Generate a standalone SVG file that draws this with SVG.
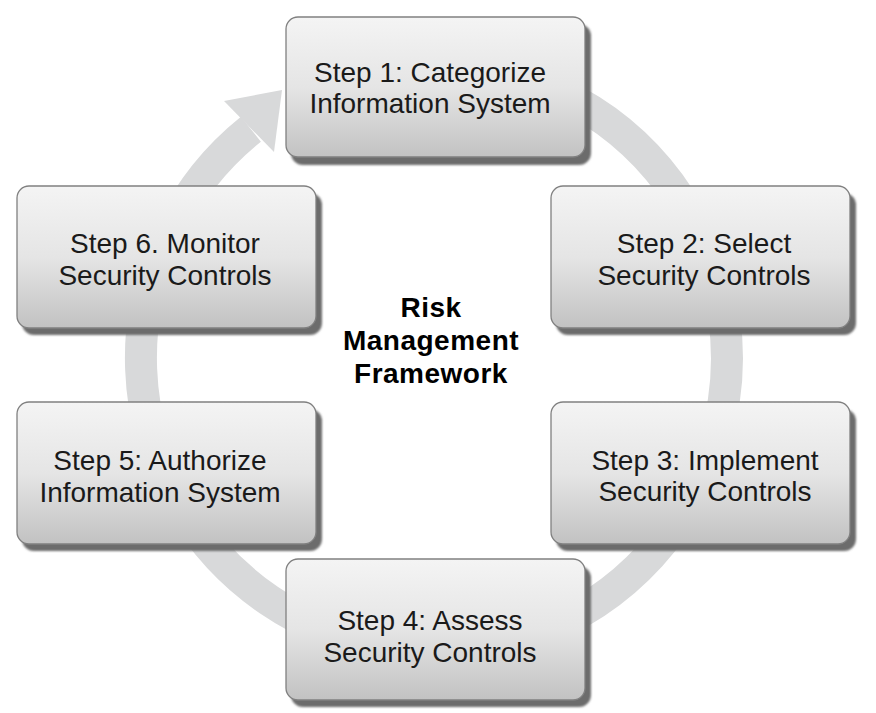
<svg xmlns="http://www.w3.org/2000/svg" width="876" height="713" viewBox="0 0 876 713">
<style>
.box{fill:url(#g);stroke:#808080;stroke-width:1.3}
.sh{fill:#6c6c6c;filter:url(#b)}
.t{font-family:"Liberation Sans",Arial,sans-serif;font-size:28px;fill:#1a1a1a;text-anchor:middle}
.c{font-family:"Liberation Sans",Arial,sans-serif;font-size:28px;font-weight:bold;fill:#000;text-anchor:middle;letter-spacing:0.5px}
</style>
<defs>
<linearGradient id="g" x1="0" y1="0" x2="0" y2="1">
<stop offset="0" stop-color="#f4f4f4"/>
<stop offset="0.5" stop-color="#e5e5e5"/>
<stop offset="1" stop-color="#c2c2c2"/>
</linearGradient>
<filter id="b" x="-5%" y="-5%" width="110%" height="110%"><feGaussianBlur stdDeviation="1.2"/></filter>
</defs>
<rect width="876" height="713" fill="#fff"/>
<g id="connectors">
<path d="M 434 65 A 293 293 0 1 1 250.9 129.2" fill="none" stroke="#d8d9da" stroke-width="32"/>
<polygon points="282,90 224,101 274,152" fill="#d8d9da"/>
</g>
<g id="step1">
<rect class="sh" x="291" y="24" width="300" height="141" rx="12"/>
<rect class="box" x="286" y="17" width="299" height="140" rx="12"/>
<text class="t" x="430" y="82">Step 1: Categorize</text>
<text class="t" x="430" y="113">Information System</text>
</g>
<g id="step2">
<rect class="sh" x="556" y="193" width="300" height="142" rx="12"/>
<rect class="box" x="551" y="186" width="299" height="142" rx="12"/>
<text class="t" x="704" y="253">Step 2: Select</text>
<text class="t" x="704" y="285">Security Controls</text>
</g>
<g id="step3">
<rect class="sh" x="556" y="409" width="300" height="142" rx="12"/>
<rect class="box" x="551" y="402" width="299" height="142" rx="12"/>
<text class="t" x="705" y="470">Step 3: Implement</text>
<text class="t" x="705" y="501">Security Controls</text>
</g>
<g id="step4">
<rect class="sh" x="291" y="566" width="300" height="141" rx="12"/>
<rect class="box" x="286" y="559" width="299" height="141" rx="12"/>
<text class="t" x="430" y="630">Step 4: Assess</text>
<text class="t" x="430" y="662">Security Controls</text>
</g>
<g id="step5">
<rect class="sh" x="22" y="409" width="300" height="142" rx="12"/>
<rect class="box" x="17" y="402" width="299" height="142" rx="12"/>
<text class="t" x="160" y="470">Step 5: Authorize</text>
<text class="t" x="160" y="502">Information System</text>
</g>
<g id="step6">
<rect class="sh" x="22" y="193" width="300" height="142" rx="12"/>
<rect class="box" x="17" y="186" width="299" height="142" rx="12"/>
<text class="t" x="165" y="253">Step 6. Monitor</text>
<text class="t" x="165" y="285">Security Controls</text>
</g>
<g id="center">
<text class="c" x="431" y="317">Risk</text>
<text class="c" x="431" y="350">Management</text>
<text class="c" x="431" y="383">Framework</text>
</g>
</svg>
